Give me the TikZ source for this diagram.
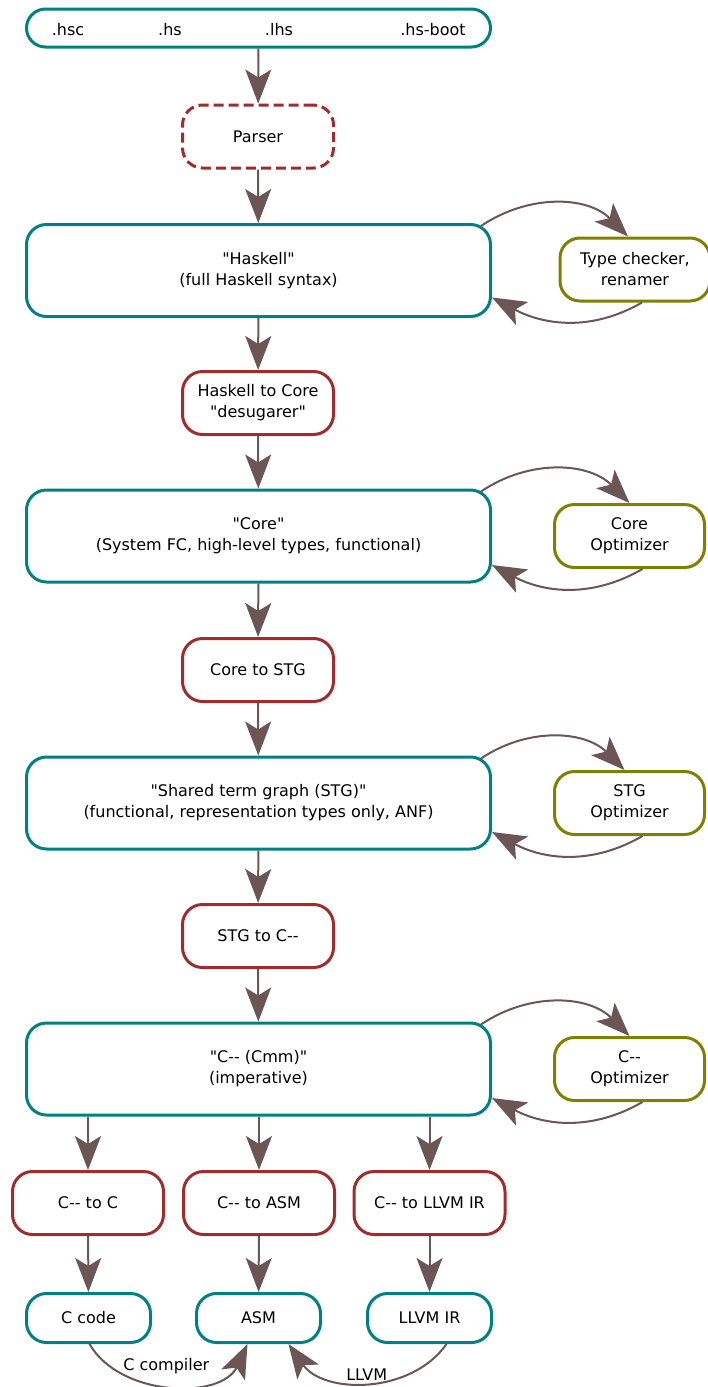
\documentclass[tikz,border=0pt]{standalone}
\usepackage{fontspec}
\setmainfont{DejaVu Sans}[Ligatures=TeXOff]
\usetikzlibrary{arrows.meta,positioning}
\definecolor{cteal}{RGB}{0,128,128}
\definecolor{cred}{RGB}{160,45,45}
\definecolor{colive}{RGB}{128,128,0}
\definecolor{carrow}{RGB}{107,85,85}
\begin{document}
\begin{tikzpicture}[x=1pt,y=1pt,
  every node/.style={font=\fontsize{16}{21}\selectfont, align=center, inner sep=0pt},
  box/.style={draw, line width=3pt, rounded corners=20pt, fill=white},
  repr/.style={box, draw=cteal},
  pass/.style={box, draw=cred, minimum width=151pt, minimum height=63pt},
  opt/.style={box, draw=colive, minimum width=150pt, minimum height=63pt},
  big/.style={repr, minimum width=464pt, minimum height=92pt},
  small/.style={repr, minimum width=124pt, minimum height=49pt},
  flow/.style={draw=carrow, line width=2pt, -{Stealth[length=34pt,width=26pt,inset=8pt]}},
  loop/.style={draw=carrow, line width=2pt, -{Stealth[length=34pt,width=26pt,inset=8pt]}},
  lab/.style={font=\fontsize{16}{21}\selectfont}
]
\useasboundingbox (0,0) rectangle (708,-1387);
\begin{scope}
\clip (0,0) rectangle (708,-1387);

% top sources box
\node[repr, minimum width=464pt, minimum height=38pt, rounded corners=19pt] (src) at (258.5,-28) {};
\node[lab] (hsc) at (68,-30) {.hsc};
\node[lab] (hs) at (170,-30) {.hs};
\node[lab] (lhs) at (279,-30) {.lhs};
\node[lab] (hsboot) at (433,-30) {.hs-boot};

\node[pass, dashed, dash pattern=on 10pt off 5pt] (parser) at (258,-136.5) {Parser};

\node[big] (hask) at (258.5,-270.5) {"Haskell"\\(full Haskell syntax)};
\node[opt] (tc) at (635,-269.5) {Type checker,\\renamer};

\node[pass] (h2c) at (258,-403) {Haskell to Core\\"desugarer"};

\node[big] (core) at (258.5,-536) {"Core"\\(System FC, high-level types, functional)};
\node[opt] (coreopt) at (629.5,-536) {Core\\Optimizer};

\node[pass] (c2stg) at (258,-670) {Core to STG};

\node[big] (stg) at (258.5,-803) {"Shared term graph (STG)"\\(functional, representation types only, ANF)};
\node[opt] (stgopt) at (629.5,-803) {STG\\Optimizer};

\node[pass] (stg2c) at (258,-936) {STG to C--};

\node[big] (cmm) at (258.5,-1069) {"C-- (Cmm)"\\(imperative)};
\node[opt] (cmmopt) at (629.5,-1069) {C--\\Optimizer};

\node[pass] (c2c) at (88,-1203) {C-- to C};
\node[pass] (c2asm) at (259,-1203) {C-- to ASM};
\node[pass] (c2llvm) at (429.5,-1203) {C-- to LLVM IR};

\node[small] (ccode) at (88.5,-1318) {C code};
\node[small] (asm) at (258.5,-1318) {ASM};
\node[small] (llvmir) at (429.5,-1318) {LLVM IR};

% main flow
\draw[flow] (src) -- (parser);
\draw[flow] (parser) -- (hask);
\draw[flow] (hask) -- (h2c);
\draw[flow] (h2c) -- (core);
\draw[flow] (core) -- (c2stg);
\draw[flow] (c2stg) -- (stg);
\draw[flow] (stg) -- (stg2c);
\draw[flow] (stg2c) -- (cmm);
\draw[flow] (c2c.north |- cmm.south) -- (c2c);
\draw[flow] (c2asm.north |- cmm.south) -- (c2asm);
\draw[flow] (c2llvm.north |- cmm.south) -- (c2llvm);
\draw[flow] (c2c) -- (ccode);
\draw[flow] (c2asm) -- (asm);
\draw[flow] (c2llvm) -- (llvmir);

% optimizer loops
\draw[loop] ([xshift=-11pt,yshift=-3pt]hask.north east) to[out=34,in=135] ([xshift=-7pt]tc.north);
\draw[loop] ([xshift=7pt]tc.south) to[out=-150,in=-28] ([yshift=-27pt]hask.east);

\draw[loop] ([xshift=-11pt,yshift=-3pt]core.north east) to[out=34,in=135] (coreopt.north);
\draw[loop] ([xshift=13pt]coreopt.south) to[out=-150,in=-28] ([yshift=-29pt]core.east);

\draw[loop] ([xshift=-11pt,yshift=-3pt]stg.north east) to[out=34,in=135] ([xshift=-5pt]stgopt.north);
\draw[loop] ([xshift=13pt]stgopt.south) to[out=-150,in=-28] ([yshift=-29pt]stg.east);

\draw[loop] ([xshift=-11pt,yshift=-3pt]cmm.north east) to[out=34,in=135] (cmmopt.north);
\draw[loop] ([xshift=13pt]cmmopt.south) to[out=-150,in=-28] ([yshift=-29pt]cmm.east);

% back ends
\draw[loop] ([xshift=1pt]ccode.south) to[out=-60,in=-115] node[pos=0.5, above=10pt, xshift=-4pt] (cclab) {C compiler} ([xshift=-11pt]asm.south);
\draw[loop] ([xshift=17pt]llvmir.south) to[out=-125,in=-55] node[pos=0.45, above=0pt, xshift=-10pt] (llvmlab) {LLVM} ([xshift=30pt]asm.south);
\end{scope}
\end{tikzpicture}
\end{document}
